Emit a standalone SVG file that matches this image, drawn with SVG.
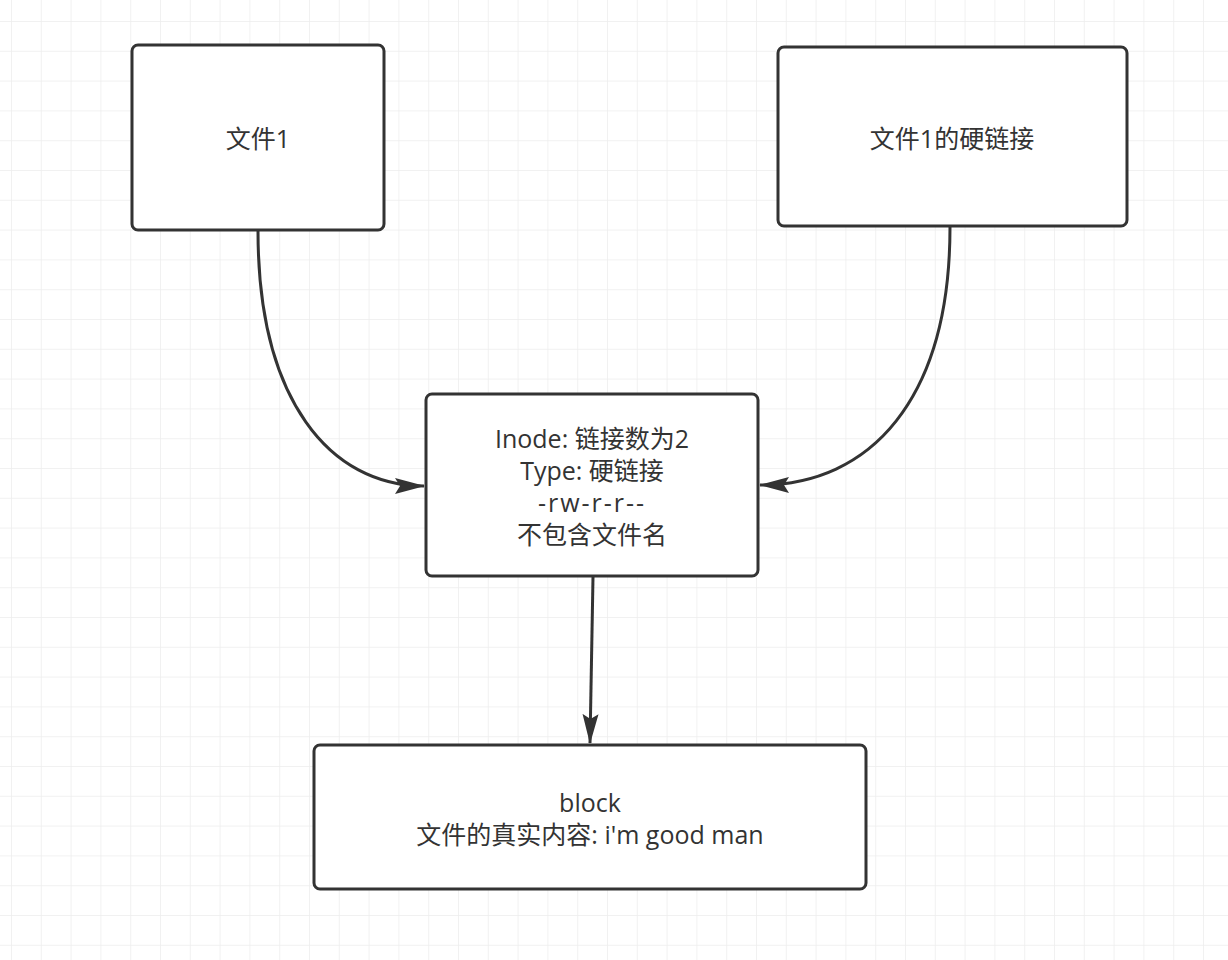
<svg xmlns="http://www.w3.org/2000/svg" width="1228" height="960" viewBox="0 0 1228 960">
<defs>
<pattern id="grid" x="11" y="21" width="29.8" height="29.8" patternUnits="userSpaceOnUse">
<path d="M0,0 H29.8 M0,0 V29.8" fill="none" stroke="#ededed" stroke-width="1.5"/>
</pattern>
<marker id="arrow" viewBox="0 0 30 20" refX="29" refY="10" markerWidth="30" markerHeight="20" markerUnits="userSpaceOnUse" orient="auto">
<path d="M0,2 L30,10 L0,18 L5,10 Z" fill="#333"/>
</marker>
</defs>
<style>
.box{fill:#fff;stroke:#333;stroke-width:3}
.t{font-family:"Open Sans","Noto Sans CJK SC",sans-serif;font-size:25px;fill:#333;text-anchor:middle}
.c{fill:none;stroke:#333;stroke-width:3}
</style>
<rect width="1228" height="960" fill="#fff"/>
<rect width="1228" height="960" fill="url(#grid)"/>
<g id="connectors">
<path class="c" d="M258,231 C258,400 330,486 424,486" marker-end="url(#arrow)"/>
<path class="c" d="M950,227 C950,400 870,485 760,485" marker-end="url(#arrow)"/>
<path class="c" d="M593,577 L590,743" marker-end="url(#arrow)"/>
</g>
<g id="file1">
<rect class="box" x="132" y="45" width="252" height="185" rx="6"/>
<text class="t" x="258" y="148">文件1</text>
</g>
<g id="hardlink">
<rect class="box" x="778" y="47" width="349" height="179" rx="6"/>
<text class="t" x="952" y="148">文件1的硬链接</text>
</g>
<g id="inode">
<rect class="box" x="426" y="394" width="332" height="182" rx="6"/>
<text class="t" x="592" y="448">Inode: 链接数为2</text>
<text class="t" x="592" y="480">Type: 硬链接</text>
<text class="t" x="592" y="512" letter-spacing="2">-rw-r-r--</text>
<text class="t" x="592" y="544">不包含文件名</text>
</g>
<g id="block">
<rect class="box" x="314" y="745" width="552" height="144" rx="6"/>
<text class="t" x="590" y="812">block</text>
<text class="t" x="590" y="844">文件的真实内容: i'm good man</text>
</g>
</svg>
